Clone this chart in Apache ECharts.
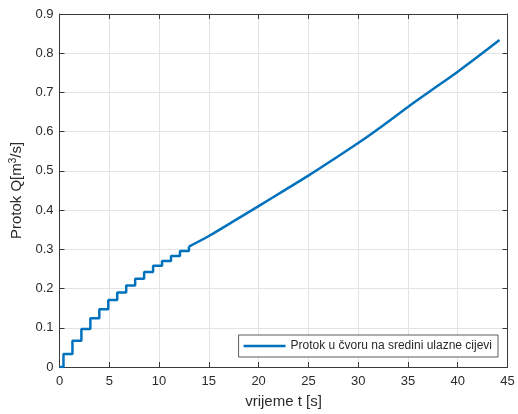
<!DOCTYPE html>
<html>
<head>
<meta charset="utf-8">
<script src="https://cdn.jsdelivr.net/npm/echarts@6/dist/echarts.min.js"></script>
<style>
html,body{margin:0;padding:0;background:#fff;}
#chart{width:518px;height:414px;}
</style>
</head>
<body>
<div id="chart"></div>
<script>
// Staircase part (level starts at given time)
var stairTimes  = [0, 0.4, 1.3, 2.2, 3.1, 4.0, 4.9, 5.8, 6.7, 7.6, 8.5, 9.4, 10.3, 11.2, 12.1, 13.0];
var stairLevels = [0, 0.033, 0.067, 0.097, 0.124, 0.147, 0.171, 0.190, 0.208, 0.225, 0.242, 0.258, 0.270, 0.283, 0.296, 0.307];
// Smooth part
var smoothTimes  = [13.0, 15, 17.5, 20, 22.5, 25, 27.5, 30, 32.5, 35, 37.5, 40, 42, 44.2];
var smoothValues = [0.307, 0.334, 0.372, 0.410, 0.449, 0.488, 0.529, 0.571, 0.616, 0.663, 0.708, 0.753, 0.791, 0.834];
// Axis ticks
var xTicks = [0, 5, 10, 15, 20, 25, 30, 35, 40, 45];
var yTicks = [0, 0.1, 0.2, 0.3, 0.4, 0.5, 0.6, 0.7, 0.8, 0.9];

var seriesName = 'Protok u čvoru na sredini ulazne cijevi';
var lineColor = '#0072BD';
var axisCol = '#3a3a3a';
var txtCol = '#2b2b2b';
var font = 'Liberation Sans, Arial, sans-serif';

function pairs(xs, ys){ return xs.map(function(x,i){ return [x, ys[i]]; }); }

var xMin = xTicks[0], xMax = xTicks[xTicks.length-1], xInt = xTicks[1]-xTicks[0];
var yMin = yTicks[0], yMax = yTicks[yTicks.length-1], yInt = +(yTicks[1]-yTicks[0]).toFixed(3);

function xAx(pos, show){
  return {
    type:'value', position:pos, min:xMin, max:xMax, interval:xInt,
    axisLine:{show:true, onZero:false, lineStyle:{color:axisCol, width:1}},
    axisTick:{show:true, inside:true, length:5, lineStyle:{color:axisCol}},
    axisLabel:{show:show, color:txtCol, fontSize:13, fontFamily:font, margin:8},
    splitLine:{show:show, lineStyle:{color:'#e3e3e3', width:1}}
  };
}
function yAx(pos, show){
  return {
    type:'value', position:pos, min:yMin, max:yMax, interval:yInt,
    axisLine:{show:true, onZero:false, lineStyle:{color:axisCol, width:1}},
    axisTick:{show:true, inside:true, length:5, lineStyle:{color:axisCol}},
    axisLabel:{show:show, color:txtCol, fontSize:13, fontFamily:font, margin:6,
      formatter:function(v){ return String(+v.toFixed(2)); }},
    splitLine:{show:show, lineStyle:{color:'#e3e3e3', width:1}}
  };
}

var xa0 = xAx('bottom', true);
xa0.name = 'vrijeme t [s]';
xa0.nameLocation = 'middle';
xa0.nameGap = 27;
xa0.nameTextStyle = {color:txtCol, fontSize:15, fontFamily:font};
var ya0 = yAx('left', true);
ya0.name = '{n|Protok Q[m}{s|3}{n|/s]}';
ya0.nameLocation = 'middle';
ya0.nameGap = 31;
ya0.nameRotate = 90;
ya0.nameTextStyle = {color:txtCol, fontSize:15, fontFamily:font,
  rich:{n:{fontSize:15, fontFamily:font, color:txtCol},
        s:{fontSize:10, fontFamily:font, color:txtCol, verticalAlign:'top', padding:[0,0,7,0]}}};

var chart = echarts.init(document.getElementById('chart'), null, {renderer:'canvas'});
chart.setOption({
  backgroundColor:'#fff',
  animation:false,
  grid:{left:59.5, right:10.5, top:14, bottom:45.5, containLabel:false},
  xAxis:[xa0, xAx('top', false)],
  yAxis:[ya0, yAx('right', false)],
  legend:{
    data:[seriesName], right:20, bottom:57, orient:'horizontal',
    icon:'rect', itemWidth:42, itemHeight:2.5, itemGap:4,
    backgroundColor:'#fff', borderColor:'#333', borderWidth:0.8, borderRadius:0,
    padding:[5,6,5,5],
    textStyle:{color:txtCol, fontSize:12, fontFamily:font}
  },
  series:[
    {name:seriesName, type:'line', step:'end', data:pairs(stairTimes, stairLevels),
     symbol:'none', lineStyle:{color:lineColor, width:2.5}, itemStyle:{color:lineColor},
     xAxisIndex:0, yAxisIndex:0},
    {name:seriesName, type:'line', data:pairs(smoothTimes, smoothValues), smooth:0.3,
     symbol:'none', lineStyle:{color:lineColor, width:2.5}, itemStyle:{color:lineColor},
     xAxisIndex:0, yAxisIndex:0}
  ]
});
</script>
</body>
</html>
